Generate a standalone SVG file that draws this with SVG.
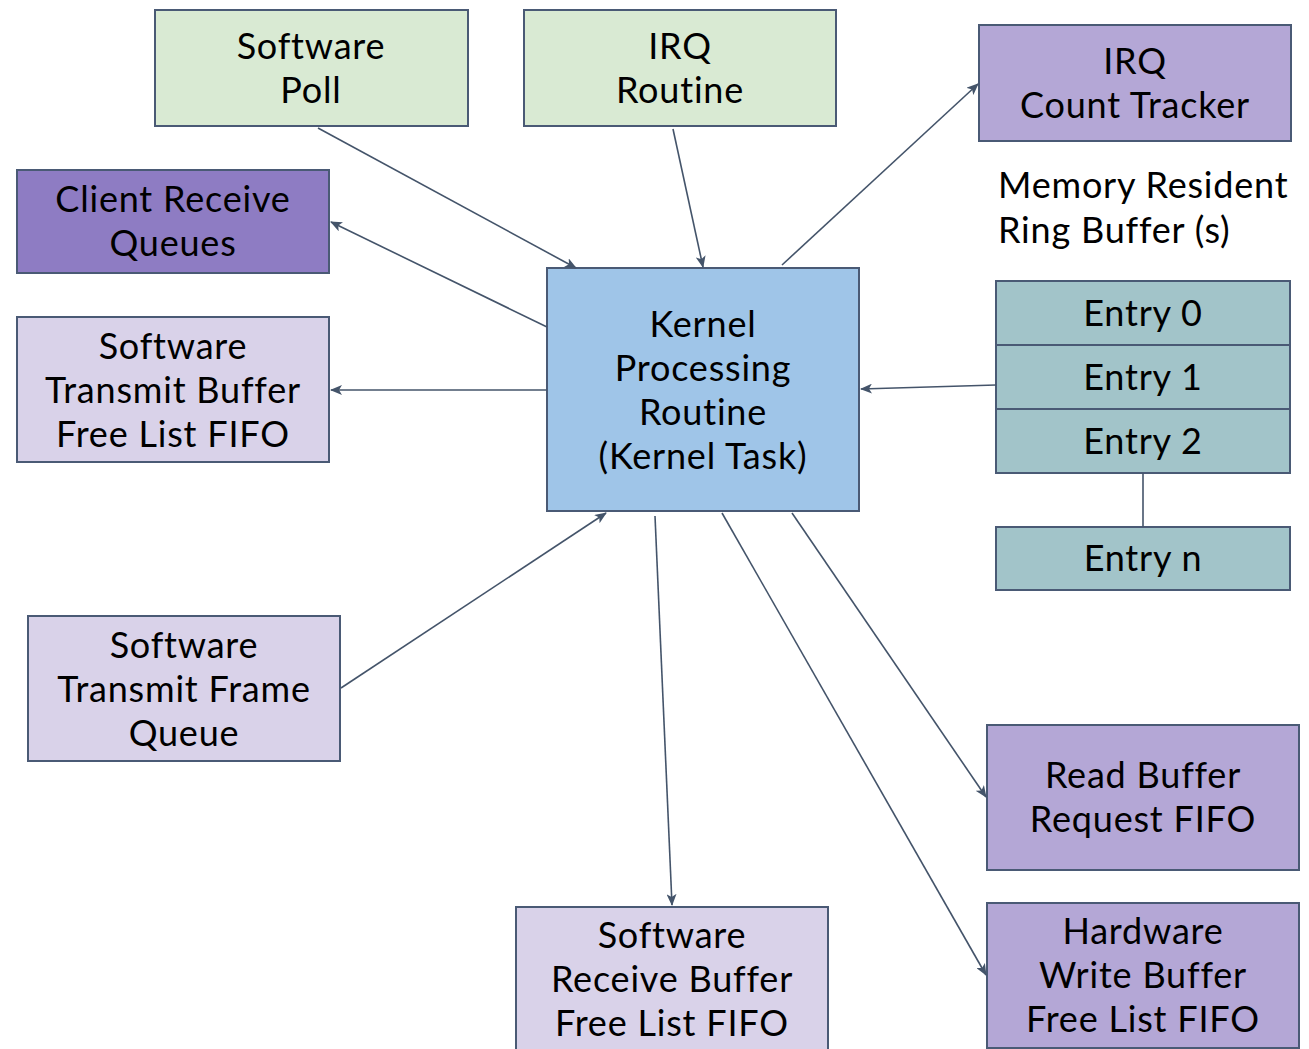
<svg xmlns="http://www.w3.org/2000/svg" width="1309" height="1049" viewBox="0 0 1309 1049">
  <defs>
    <marker id="arrow" viewBox="0 0 12 10" refX="11" refY="5" markerWidth="12" markerHeight="10" markerUnits="userSpaceOnUse" orient="auto">
      <path d="M0,0 L12,5 L0,10 L3,5 Z" fill="#44546a"/>
    </marker>
  </defs>
  <style>
    .box { stroke: #4a5a75; stroke-width: 2; }
    .green { fill: #d9ead3; }
    .lav { fill: #b4a7d6; }
    .purple { fill: #8e7cc3; }
    .pale { fill: #d9d2e9; }
    .blue { fill: #9fc5e8; }
    .teal { fill: #a2c4c9; }
    text { font-family: Lato, "Open Sans", "Liberation Sans", sans-serif; font-size: 36px; letter-spacing: 0.8px; fill: #000; }
    .c { text-anchor: middle; }
    .edge { stroke: #44546a; stroke-width: 1.6; fill: none; }
  </style>
  <rect width="1309" height="1049" fill="#ffffff"/>

  <g id="software-poll">
    <rect class="box green" x="155" y="10" width="313" height="116"/>
    <text class="c" x="311" y="59">Software</text>
    <text class="c" x="311" y="103">Poll</text>
  </g>
  <g id="irq-routine">
    <rect class="box green" x="524" y="10" width="312" height="116"/>
    <text class="c" x="680" y="59">IRQ</text>
    <text class="c" x="680" y="103">Routine</text>
  </g>
  <g id="irq-count-tracker">
    <rect class="box lav" x="979" y="25" width="312" height="116"/>
    <text class="c" x="1135" y="74">IRQ</text>
    <text class="c" x="1135" y="118">Count Tracker</text>
  </g>
  <g id="client-receive-queues">
    <rect class="box purple" x="17" y="170" width="312" height="103"/>
    <text class="c" x="173" y="212">Client Receive</text>
    <text class="c" x="173" y="256">Queues</text>
  </g>
  <g id="sw-tx-buffer-free-list">
    <rect class="box pale" x="17" y="317" width="312" height="145"/>
    <text class="c" x="173" y="359">Software</text>
    <text class="c" x="173" y="403">Transmit Buffer</text>
    <text class="c" x="173" y="447">Free List FIFO</text>
  </g>
  <g id="kernel-processing-routine">
    <rect class="box blue" x="547" y="268" width="312" height="243"/>
    <text class="c" x="703" y="337">Kernel</text>
    <text class="c" x="703" y="381">Processing</text>
    <text class="c" x="703" y="425">Routine</text>
    <text class="c" x="703" y="469">(Kernel Task)</text>
  </g>
  <g id="ring-buffer">
    <text x="998" y="198">Memory Resident</text>
    <text x="998" y="243">Ring Buffer (s)</text>
    <rect class="box teal" x="996" y="281" width="294" height="64"/>
    <text class="c" x="1143" y="326">Entry 0</text>
    <rect class="box teal" x="996" y="345" width="294" height="64"/>
    <text class="c" x="1143" y="390">Entry 1</text>
    <rect class="box teal" x="996" y="409" width="294" height="64"/>
    <text class="c" x="1143" y="454">Entry 2</text>
    <rect class="box teal" x="996" y="527" width="294" height="63"/>
    <text class="c" x="1143" y="571">Entry n</text>
  </g>
  <g id="sw-tx-frame-queue">
    <rect class="box pale" x="28" y="616" width="312" height="145"/>
    <text class="c" x="184" y="658">Software</text>
    <text class="c" x="184" y="702">Transmit Frame</text>
    <text class="c" x="184" y="746">Queue</text>
  </g>
  <g id="read-buffer-request-fifo">
    <rect class="box lav" x="987" y="725" width="312" height="145"/>
    <text class="c" x="1143" y="788">Read Buffer</text>
    <text class="c" x="1143" y="832">Request FIFO</text>
  </g>
  <g id="hw-write-buffer-free-list">
    <rect class="box lav" x="987" y="903" width="312" height="145"/>
    <text class="c" x="1143" y="944">Hardware</text>
    <text class="c" x="1143" y="988">Write Buffer</text>
    <text class="c" x="1143" y="1032">Free List FIFO</text>
  </g>
  <g id="sw-rx-buffer-free-list">
    <rect class="box pale" x="516" y="907" width="312" height="150"/>
    <text class="c" x="672" y="948">Software</text>
    <text class="c" x="672" y="992">Receive Buffer</text>
    <text class="c" x="672" y="1036">Free List FIFO</text>
  </g>

  <g id="connectors">
    <line class="edge" x1="318" y1="128" x2="576" y2="268" marker-end="url(#arrow)"/>
    <line class="edge" x1="673" y1="129" x2="703" y2="267" marker-end="url(#arrow)"/>
    <line class="edge" x1="782" y1="265" x2="978" y2="84" marker-end="url(#arrow)"/>
    <line class="edge" x1="547" y1="327" x2="331" y2="222" marker-end="url(#arrow)"/>
    <line class="edge" x1="547" y1="390" x2="331" y2="390" marker-end="url(#arrow)"/>
    <line class="edge" x1="996" y1="385" x2="861" y2="389" marker-end="url(#arrow)"/>
    <line class="edge" x1="1143" y1="473" x2="1143" y2="527"/>
    <line class="edge" x1="341" y1="688" x2="606" y2="513" marker-end="url(#arrow)"/>
    <line class="edge" x1="655" y1="516" x2="672" y2="905" marker-end="url(#arrow)"/>
    <line class="edge" x1="792" y1="513" x2="986" y2="797" marker-end="url(#arrow)"/>
    <line class="edge" x1="722" y1="513" x2="986" y2="975" marker-end="url(#arrow)"/>
  </g>
</svg>
